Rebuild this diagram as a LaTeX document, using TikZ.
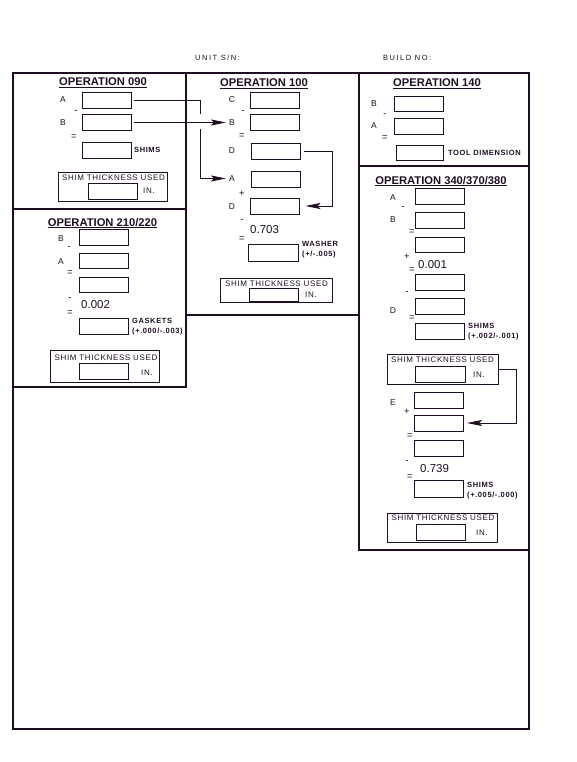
\documentclass[tikz,border=0pt]{standalone}
\usepackage{fontspec}
\setmainfont{Liberation Sans}
\newfontfamily\hdrfont[LetterSpace=20]{Liberation Sans}
\newfontfamily\spfont[LetterSpace=8]{Liberation Sans}
\usetikzlibrary{arrows.meta}
\definecolor{ink}{RGB}{30,15,35}
\begin{document}
\begin{tikzpicture}[x=1pt,y=-1pt,
  every node/.style={text=ink},
  frame/.style={draw=ink, line width=1.6pt},
  field/.style={draw=ink, line width=0.7pt, minimum width=49pt, minimum height=16pt, inner sep=0pt, outer sep=0pt},
  panel/.style={draw=ink, line width=0.7pt, inner sep=0pt, outer sep=0pt},
  lbl/.style={font=\fontsize{8.5}{9}\selectfont, inner sep=0pt},
  opsign/.style={font=\fontsize{9.5}{10}\selectfont, inner sep=0pt},
  hdr/.style={font=\hdrfont\fontsize{7.5}{9}\selectfont, inner sep=0pt, anchor=west},
  shimtxt/.style={font=\spfont\fontsize{8}{9}\selectfont, inner sep=0pt},
  optitle/.style={font=\fontsize{11.2}{13}\selectfont\bfseries, anchor=base, inner sep=0pt},
  note/.style={font=\spfont\fontsize{7.5}{10}\selectfont\bfseries, align=left, anchor=west, inner sep=0pt},
  num/.style={font=\fontsize{11.5}{13}\selectfont, anchor=west, inner sep=0pt},
  intxt/.style={font=\spfont\fontsize{8}{9}\selectfont, anchor=west, inner sep=0pt},
  conn/.style={draw=ink, line width=0.8pt},
  tip/.style={-{Stealth[length=15pt,width=6pt,inset=3pt]}}
]
\useasboundingbox (0,0) rectangle (576,762);

% header
\node[hdr] (unitsn) at (195,58) {UNIT S/N:};
\node[hdr] (buildno) at (383,58) {BUILD NO:};

% frames
\draw[frame] (13,73) rectangle (529,729);
\draw[frame] (13,73) rectangle (186,209);
\draw[frame] (13,209) rectangle (186,387);
\draw[frame] (186,73) rectangle (359,315);
\draw[frame] (359,73) rectangle (529,166);
\draw[frame] (359,166) rectangle (529,550);

% ---------- OPERATION 090
\node[optitle] (t090) at (103,86) {\underline{OPERATION 090}};
\node[lbl] (lA90) at (63,100) {A};
\node[field] (a90) at (106.5,100) {};
\node[opsign] (m90) at (76,112) {-};
\node[lbl] (lB90) at (63,122.5) {B};
\node[field] (b90) at (106.5,122.5) {};
\node[opsign] (e90) at (74,137) {=};
\node[field] (s90) at (106.5,150) {};
\node[note, anchor=west] (n90) at (134,150) {SHIMS};
\node[panel, minimum width=109pt, minimum height=29pt] (sp90) at (112.5,186.5) {};
\node[shimtxt] (st90) at (113.5,177.5) {SHIM THICKNESS USED};
\node[field] (si90) at (112.5,191) {};
\node[intxt] (in90) at (143,191) {IN.};

% ---------- OPERATION 100
\node[optitle] (t100) at (264,87) {\underline{OPERATION 100}};
\node[lbl] (lC100) at (232,99.5) {C};
\node[field] (c100) at (274.5,100) {};
\node[opsign] (m100a) at (243,112) {-};
\node[lbl] (lB100) at (232,122.5) {B};
\node[field] (b100) at (274.5,122.5) {};
\node[opsign] (e100a) at (242,136) {=};
\node[lbl] (lD100) at (232,151) {D};
\node[field] (d100) at (275.5,151) {};
\node[lbl] (lA100) at (232,178.5) {A};
\node[field] (a100) at (275.5,179) {};
\node[opsign] (p100) at (242,194) {+};
\node[lbl] (lDD100) at (232,207) {D};
\node[field] (dd100) at (275,206) {};
\node[opsign] (m100b) at (242,221) {-};
\node[num] (v100) at (250,230) {0.703};
\node[opsign] (e100b) at (242,239) {=};
\node[field, minimum width=50pt, minimum height=17pt] (w100) at (273,252.5) {};
\node[note] (n100) at (302,250) {WASHER\\(+/-.005)};
\node[panel, minimum width=112pt, minimum height=24pt] (sp100) at (276,290) {};
\node[shimtxt] (st100) at (276.5,284) {SHIM THICKNESS USED};
\node[field, minimum height=13pt] (si100) at (273.5,294.5) {};
\node[intxt] (in100) at (305,295) {IN.};

% ---------- OPERATION 140
\node[optitle] (t140) at (437,87) {\underline{OPERATION 140}};
\node[lbl] (lB140) at (374,103.5) {B};
\node[field, minimum height=15pt] (b140) at (418.5,103.5) {};
\node[opsign] (m140) at (385,115) {-};
\node[lbl] (lA140) at (374,125.5) {A};
\node[field] (a140) at (418.5,126) {};
\node[opsign] (e140) at (385,138) {=};
\node[field, minimum width=47pt, minimum height=15pt] (r140) at (419.5,152.5) {};
\node[note] (n140) at (448,152.5) {TOOL DIMENSION};

% ---------- OPERATION 210/220
\node[optitle] (t210) at (102.5,226) {\underline{OPERATION 210/220}};
\node[lbl] (lB210) at (61,238.5) {B};
\node[field] (b210) at (103.5,237) {};
\node[opsign] (m210a) at (69,248) {-};
\node[lbl] (lA210) at (61,262) {A};
\node[field, minimum height=15pt] (a210) at (103.5,260.5) {};
\node[opsign] (e210a) at (70,273) {=};
\node[field, minimum height=15pt] (r210) at (103.5,284.5) {};
\node[opsign] (m210b) at (70,299) {-};
\node[num] (v210) at (81,305) {0.002};
\node[opsign] (e210b) at (70,313) {=};
\node[field] (g210) at (103.5,326) {};
\node[note] (n210) at (132,327) {GASKETS\\(+.000/-.003)};
\node[panel, minimum width=109pt, minimum height=32pt] (sp210) at (104.5,366) {};
\node[shimtxt] (st210) at (106,357.5) {SHIM THICKNESS USED};
\node[field] (si210) at (103.5,371) {};
\node[intxt] (in210) at (141,372.5) {IN.};

% ---------- OPERATION 340/370/380
\node[optitle] (t340) at (441,184) {\underline{OPERATION 340/370/380}};
\node[lbl] (lA340) at (393,198) {A};
\node[field] (a340) at (439.5,196) {};
\node[opsign] (m340a) at (403,208) {-};
\node[lbl] (lB340) at (393,219.5) {B};
\node[field] (b340) at (439.5,220) {};
\node[opsign] (e340a) at (412,232) {=};
\node[field, minimum height=15pt] (r340a) at (439.5,244.5) {};
\node[opsign] (p340a) at (407,257) {+};
\node[num] (v340a) at (418,265) {0.001};
\node[opsign] (e340b) at (412,270) {=};
\node[field] (r340b) at (439.5,282) {};
\node[opsign] (m340b) at (407,293) {-};
\node[lbl] (lD340) at (393,310.5) {D};
\node[field] (d340) at (439.5,306) {};
\node[opsign] (e340c) at (412,318) {=};
\node[field] (s340) at (439.5,331) {};
\node[note] (n340a) at (468,332) {SHIMS\\(+.002/-.001)};
\node[panel, minimum width=111pt, minimum height=30pt] (sp340a) at (442.5,369) {};
\node[shimtxt] (st340a) at (442.5,359.5) {SHIM THICKNESS USED};
\node[field, minimum width=50pt] (si340a) at (440,374) {};
\node[intxt] (in340a) at (473,375) {IN.};
\node[lbl] (lE340) at (393,403) {E};
\node[field] (e340) at (438.5,400) {};
\node[opsign] (p340b) at (407,412) {+};
\node[field] (f340) at (438.5,423) {};
\node[opsign] (e340d) at (410,436) {=};
\node[field] (r340c) at (438.5,448) {};
\node[opsign] (m340c) at (407,462) {-};
\node[num] (v340b) at (420,469) {0.739};
\node[opsign] (e340e) at (410,477) {=};
\node[field, minimum height=17pt] (s340b) at (438.5,488.5) {};
\node[note] (n340b) at (467,490.5) {SHIMS\\(+.005/-.000)};
\node[panel, minimum width=110pt, minimum height=29pt] (sp340b) at (442,527.5) {};
\node[shimtxt] (st340b) at (443,517.5) {SHIM THICKNESS USED};
\node[field] (si340b) at (440.5,532) {};
\node[intxt] (in340b) at (476,533) {IN.};

% ---------- connectors
\coordinate (c1a) at (200,100);
\coordinate (c1b) at (200,114);
\coordinate (c1c) at (200,129);
\coordinate (c1d) at (200,178.5);
\draw[conn] ([xshift=3pt]a90.east) -- (c1a) -- (c1b);
\draw[conn,tip] (c1c) -- (c1d) -- ([xshift=-3pt]lA100.west);
\draw[conn,tip] ([xshift=3pt]b90.east) -- ([xshift=-3pt]lB100.west);

\coordinate (c3a) at (332,151);
\coordinate (c3b) at (332,206);
\draw[conn,tip] ([xshift=4pt]d100.east) -- (c3a) -- (c3b) -- ([xshift=6pt]dd100.east);

\coordinate (c4a) at (516,369);
\coordinate (c4b) at (516,423);
\draw[conn,tip] (sp340a.east) -- (c4a) -- (c4b) -- ([xshift=4pt]f340.east);
\end{tikzpicture}
\end{document}
